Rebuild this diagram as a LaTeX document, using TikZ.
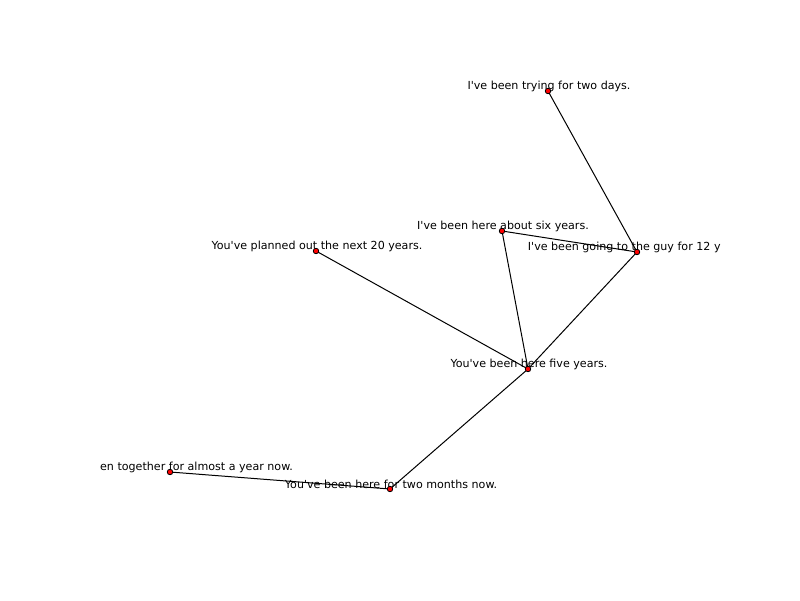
\documentclass[tikz,border=0pt]{standalone}
\usepackage{fontspec}
\setmainfont{DejaVu Sans}[Ligatures=TeXOff]
\begin{document}
\begin{tikzpicture}[x=1pt,y=-1pt,
  vertex/.style={circle,draw=black,fill=red,line width=0.8pt,minimum size=5.5pt,inner sep=0pt},
  edge/.style={draw=black,line width=1pt},
  lbl/.style={inner sep=0pt,anchor=center,font=\fontsize{11.1}{13}\selectfont}]
\useasboundingbox (0,0) rectangle (800,600);
% graph vertices
\coordinate (pA) at (548,91);
\coordinate (pB) at (502,231);
\coordinate (pC) at (637,252);
\coordinate (pD) at (316,251);
\coordinate (pE) at (528,369);
\coordinate (pF) at (170,472);
\coordinate (pG) at (390,489);
% edges
\draw[edge] (pA) -- (pC);
\draw[edge] (pB) -- (pC);
\draw[edge] (pB) -- (pE);
\draw[edge] (pC) -- (pE);
\draw[edge] (pD) -- (pE);
\draw[edge] (pE) -- (pG);
\draw[edge] (pF) -- (pG);
% labels, clipped to the plotting area
\begin{scope}
\clip (100,72) rectangle (720,528);
\node[lbl] (lA) at (549,86) {I've been trying for two days.};
\node[lbl] (lB) at (503,226) {I've been here about six years.};
\node[lbl] (lC) at (638,247) {I've been going to the guy for 12 years.};
\node[lbl] (lD) at (317,246) {You've planned out the next 20 years.};
\node[lbl] (lE) at (529,364) {You've been here five years.};
\node[lbl] (lF) at (171,467) {We've been together for almost a year now.};
\node[lbl] (lG) at (391,484) {You've been here for two months now.};
\end{scope}
% vertex markers
\foreach \v in {A,B,C,D,E,F,G}
  \node[vertex] (v\v) at (p\v) {};
\end{tikzpicture}
\end{document}
